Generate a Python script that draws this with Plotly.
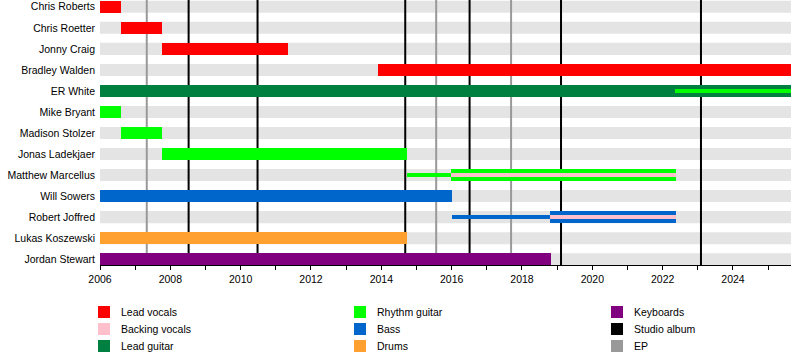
import plotly.graph_objects as go

# ---------------- data ----------------
members = ["Chris Roberts", "Chris Roetter", "Jonny Craig", "Bradley Walden", "ER White",
           "Mike Bryant", "Madison Stolzer", "Jonas Ladekjaer", "Matthew Marcellus",
           "Will Sowers", "Robert Joffred", "Lukas Koszewski", "Jordan Stewart"]

START = 2006.0
END = 2025.65

# main (full-height) bars
main_member = ["Chris Roberts", "Chris Roetter", "Jonny Craig", "Bradley Walden", "ER White",
               "Mike Bryant", "Madison Stolzer", "Jonas Ladekjaer", "Matthew Marcellus",
               "Will Sowers", "Robert Joffred", "Lukas Koszewski", "Jordan Stewart"]
main_role = ["Lead vocals", "Lead vocals", "Lead vocals", "Lead vocals", "Lead guitar",
             "Rhythm guitar", "Rhythm guitar", "Rhythm guitar", "Rhythm guitar",
             "Bass", "Bass", "Drums", "Keyboards"]
main_start = [2006.0, 2006.59, 2007.76, 2013.91, 2006.0,
              2006.0, 2006.59, 2007.76, 2015.98,
              2006.0, 2018.80, 2006.0, 2006.0]
main_end = [2006.59, 2007.76, 2011.34, END, END,
            2006.59, 2007.76, 2014.74, 2022.39,
            2016.0, 2022.39, 2014.74, 2018.82]

# thin lines (interim periods)
thin_member = ["Matthew Marcellus", "Robert Joffred"]
thin_role = ["Rhythm guitar", "Bass"]
thin_start = [2014.74, 2016.0]
thin_end = [2015.98, 2018.80]

# secondary roles drawn as inner stripes
stripe_member = ["ER White", "Matthew Marcellus", "Robert Joffred"]
stripe_role = ["Rhythm guitar", "Backing vocals", "Backing vocals"]
stripe_start = [2022.36, 2015.98, 2018.80]
stripe_end = [END, 2022.39, 2022.39]

studio_albums = [2008.52, 2010.48, 2014.68, 2016.51, 2019.11, 2023.09]
eps = [2007.33, 2015.56, 2017.69]

x_tick_years = list(range(2006, 2026, 2))

legend_items = ["Lead vocals", "Backing vocals", "Lead guitar",
                "Rhythm guitar", "Bass", "Drums",
                "Keyboards", "Studio album", "EP"]

# ---------------- styles ----------------
colors = {
    "Lead vocals": "#ff0000",
    "Backing vocals": "#ffc0cb",
    "Lead guitar": "#008040",
    "Rhythm guitar": "#00ff00",
    "Bass": "#0066cc",
    "Drums": "#ffa030",
    "Keyboards": "#800080",
    "Studio album": "#000000",
    "EP": "#999999",
}
BAND_COLOR = "#e4e4e4"
FONT = "Liberation Sans, Arial, sans-serif"
FS = 10.5

W, H = 800, 359
ML, MR, MT, MB = 100, 9, 0, 94
PW = W - ML - MR
PH = H - MT - MB
ROW_PX = 21.0
BAR_H = 12.0 / ROW_PX
THIN_H = 4.0 / ROW_PX
STRIPE_H = 4.5 / ROW_PX

n = len(members)
ypos = {m: n - 1 - i for i, m in enumerate(members)}
Y_RANGE = [-5.8 / ROW_PX, (n - 1) + 6.8 / ROW_PX]

fig = go.Figure()

def add_bars(mem, role, st, en, height):
    roles = []
    for r in role:
        if r not in roles:
            roles.append(r)
    for r in roles:
        idx = [i for i in range(len(mem)) if role[i] == r]
        fig.add_trace(go.Bar(
            orientation="h",
            y=[ypos[mem[i]] for i in idx],
            base=[st[i] for i in idx],
            x=[en[i] - st[i] for i in idx],
            width=height,
            marker=dict(color=colors[r], line=dict(width=0)),
            showlegend=False,
            hoverinfo="skip",
        ))

add_bars(main_member, main_role, main_start, main_end, BAR_H)
add_bars(thin_member, thin_role, thin_start, thin_end, THIN_H)
add_bars(stripe_member, stripe_role, stripe_start, stripe_end, STRIPE_H)

shapes = []
# background bands
for m in members:
    y = ypos[m]
    shapes.append(dict(type="rect", xref="x", yref="y", x0=START, x1=END,
                       y0=y - BAR_H / 2, y1=y + BAR_H / 2,
                       fillcolor=BAND_COLOR, line=dict(width=0), layer="below"))
# release lines
for x in eps:
    shapes.append(dict(type="line", xref="x", yref="y", x0=x, x1=x, y0=Y_RANGE[0], y1=Y_RANGE[1],
                       line=dict(color=colors["EP"], width=2), layer="below"))
for x in studio_albums:
    shapes.append(dict(type="line", xref="x", yref="y", x0=x, x1=x, y0=Y_RANGE[0], y1=Y_RANGE[1],
                       line=dict(color=colors["Studio album"], width=2), layer="below"))

# custom legend (3 columns x 3 rows)
def px_x(px):
    return (px - ML) / PW

def px_y(py):
    return 1 - (py - MT) / PH

col_x = [98, 354, 611]
row_y = [312, 329, 346]
annotations = []
for k, name in enumerate(legend_items):
    c, r = divmod(k, 3)
    sx, sy = col_x[c], row_y[r]
    shapes.append(dict(type="rect", xref="paper", yref="paper",
                       x0=px_x(sx), x1=px_x(sx + 12), y0=px_y(sy - 6), y1=px_y(sy + 6),
                       fillcolor=colors[name], line=dict(width=0)))
    annotations.append(dict(xref="paper", yref="paper", x=px_x(sx + 21), y=px_y(sy),
                            xanchor="left", yanchor="middle", text=name, showarrow=False,
                            font=dict(family=FONT, size=FS, color="#000000")))

fig.update_layout(
    width=W, height=H,
    margin=dict(l=ML, r=MR, t=MT, b=MB, pad=0),
    paper_bgcolor="white", plot_bgcolor="white",
    barmode="overlay",
    bargap=0,
    shapes=shapes,
    annotations=annotations,
    font=dict(family=FONT, size=FS, color="#000000"),
    showlegend=False,
)

fig.update_xaxes(
    range=[START, END],
    tickvals=x_tick_years, ticktext=[str(v) for v in x_tick_years],
    ticks="outside", ticklen=4, tickcolor="#000000", tickwidth=1,
    minor=dict(dtick=1, tick0=START, ticks="outside", ticklen=4, tickcolor="#000000", showgrid=False),
    showline=True, linecolor="#000000", linewidth=1,
    showgrid=False, zeroline=False, automargin=False,
    tickfont=dict(family=FONT, size=FS, color="#000000"),
)

fig.update_yaxes(
    range=Y_RANGE,
    tickvals=[ypos[m] for m in members], ticktext=members,
    showgrid=False, zeroline=False, showline=False, ticks="",
    ticklabelstandoff=4, automargin=False,
    tickfont=dict(family=FONT, size=FS, color="#000000"),
)

fig.write_html("out.html",
               config={"displayModeBar": False, "staticPlot": True},
               post_script="document.body.style.margin='0';document.body.style.padding='0';")
